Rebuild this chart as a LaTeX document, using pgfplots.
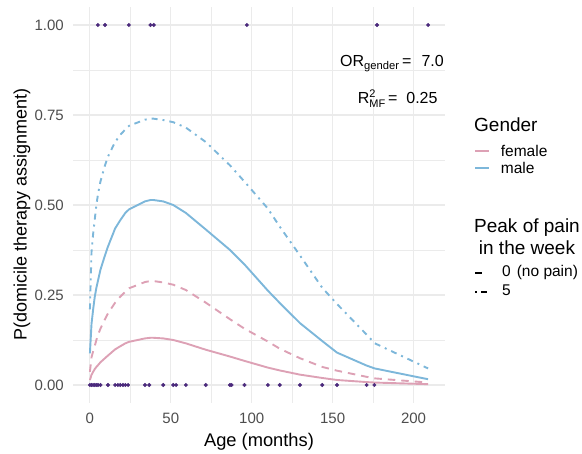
\documentclass[border=0pt]{standalone}
\usepackage{fontspec}
\setmainfont{Liberation Sans}
\usepackage{pgfplots}
\pgfplotsset{compat=1.18}

\definecolor{malecol}{HTML}{7DB7DA}
\definecolor{femcol}{HTML}{DDA1B5}
\definecolor{ptcol}{HTML}{4B2A7C}
\definecolor{gridcol}{HTML}{EBEBEB}
\definecolor{tickcol}{HTML}{4D4D4D}

\begin{document}
\begin{tikzpicture}
\useasboundingbox (-73bp,-51bp) rectangle (509bp,403bp);
\begin{axis}[
  at={(0,0)}, anchor=south west,
  scale only axis, width=372bp, height=396bp,
  xmin=-10.45, xmax=219.45, ymin=-0.05, ymax=1.05,
  axis line style={draw=none},
  major tick length=0pt, minor tick length=0pt,
  xtick={0,50,100,150,200}, minor xtick={25,75,125,175},
  ytick={0,0.25,0.5,0.75,1}, minor ytick={0.125,0.375,0.625,0.875},
  grid=both,
  major grid style={gridcol, line width=1.1bp},
  minor grid style={gridcol, line width=0.55bp},
  /pgf/number format/assume math mode=true,
  tick label style={font=\fontsize{15bp}{18bp}\selectfont, text=tickcol, inner sep=0pt},
  xticklabel shift=10bp, yticklabel shift=9bp,
  yticklabel style={/pgf/number format/.cd, fixed, fixed zerofill, precision=2},
  xlabel={Age (months)},
  ylabel={P(domicile therapy assignment)},
  every axis x label/.style={at={(axis description cs:0.5,-0.1086)}, anchor=base,
    font=\fontsize{18.3bp}{21bp}\selectfont, inner sep=0pt},
  every axis y label/.style={at={(axis description cs:-0.1245,0.477)}, rotate=90, anchor=base,
    font=\fontsize{18bp}{21bp}\selectfont, inner sep=0pt},
]
% female, pain 0
\addplot[femcol, line width=1.9bp] coordinates {
  (0,0.0136) (1,0.0284) (2,0.0366) (3,0.0443) (4,0.0502) (5,0.0551) (6.5,0.063)
  (9.3,0.0744) (11.2,0.082) (15.6,0.099) (18.8,0.1077) (21.9,0.1157) (24.2,0.1199)
  (34,0.1294) (37.5,0.1312) (39,0.1312) (45.3,0.1294) (51.5,0.125) (59.3,0.1157)
  (71.6,0.098) (86.6,0.079) (95.5,0.067) (110,0.0483) (117.3,0.0405) (129.8,0.0288)
  (143.6,0.0195) (152.7,0.0139) (171,0.0081) (176,0.0068) (209,0.0023)
};
% female, pain 5
\addplot[femcol, line width=1.9bp, dash pattern=on 7.5bp off 6bp] coordinates {
  (0,0.0366) (1,0.0774) (2,0.0937) (3,0.1085) (4,0.125) (5,0.1387) (6.5,0.1565)
  (9.3,0.1826) (11.2,0.1991) (15.6,0.2288) (18.8,0.2456) (21.9,0.2591) (24.2,0.2687)
  (34,0.2859) (37.5,0.289) (39,0.289) (45.3,0.2848) (51.5,0.2786) (59.3,0.2638)
  (71.6,0.2288) (86.6,0.1826) (95.5,0.1565) (110,0.1207) (117.3,0.1009) (129.8,0.0744)
  (143.6,0.0502) (152.7,0.0398) (171,0.0227) (176,0.0184) (209,0.0068)
};
% male, pain 0
\addplot[malecol, line width=1.9bp] coordinates {
  (0,0.088) (1,0.17) (2,0.21) (3,0.245) (4,0.27) (5,0.29) (6.5,0.32)
  (9.3,0.36) (11.2,0.385) (15.6,0.435) (18.8,0.458) (21.9,0.478) (24.2,0.488)
  (34,0.51) (37.5,0.514) (39,0.514) (45.3,0.51) (51.5,0.50) (59.3,0.478)
  (71.6,0.432) (86.6,0.375) (95.5,0.335) (110,0.262) (117.3,0.228) (129.8,0.172)
  (143.6,0.122) (152.7,0.09) (171,0.054) (176,0.046) (209,0.016)
};
% male, pain 5
\addplot[malecol, line width=1.9bp, dash pattern=on 6bp off 5bp on 2bp off 5bp] coordinates {
  (0,0.21) (1,0.37) (2,0.42) (3,0.46) (4,0.50) (5,0.53) (6.5,0.565)
  (9.3,0.61) (11.2,0.635) (15.6,0.675) (18.8,0.695) (21.9,0.71) (24.2,0.72)
  (34,0.737) (37.5,0.74) (39,0.74) (45.3,0.736) (51.5,0.73) (59.3,0.715)
  (71.6,0.675) (86.6,0.61) (95.5,0.565) (110,0.49) (117.3,0.44) (129.8,0.36)
  (143.6,0.27) (152.7,0.225) (171,0.14) (176,0.116) (209,0.046)
};
% observed assignments
\addplot[only marks, mark=*, mark size=1.8bp, ptcol] coordinates {
  (0,0) (1,0) (2,0) (3,0) (4,0) (5,0) (6.5,0) (11.2,0) (15.6,0) (17.3,0)
  (18.8,0) (20.4,0) (21.9,0) (23.6,0) (34,0) (36.7,0) (45.3,0) (51.5,0) (53.3,0)
  (59.3,0) (71.6,0) (86.6,0) (87.6,0) (95.5,0) (110,0) (117.3,0) (129.8,0)
  (143.6,0) (152.7,0) (171,0) (175.8,0)
  (4.9,1) (9.3,1) (24.1,1) (37.4,1) (39.5,1) (97,1) (177.4,1) (209,1)
};
\end{axis}

% annotations
\node[anchor=base east, inner sep=0pt, font=\fontsize{16bp}{19bp}\selectfont] at (371bp,336.3bp)
  {OR\textsubscript{gender}\,=\hspace{10bp}7.0};
\node[anchor=base east, inner sep=0pt, font=\fontsize{16bp}{19bp}\selectfont] at (364.7bp,299bp)
  {R\raisebox{-3.5bp}{\fontsize{11bp}{9.5bp}\selectfont\begin{tabular}[b]{@{}l@{}}2\\MF\end{tabular}}\,=\hspace{9bp}0.25};

% legend: gender
\node[anchor=base west, inner sep=0pt, font=\fontsize{19bp}{22bp}\selectfont] at (401bp,271bp) {Gender};
\draw[femcol, line width=1.9bp] (402bp,252.3bp) -- (416bp,252.3bp);
\node[anchor=base west, inner sep=0pt, font=\fontsize{15.5bp}{18bp}\selectfont] at (427.7bp,246bp) {female};
\draw[malecol, line width=1.9bp] (402bp,235bp) -- (416bp,235bp);
\node[anchor=base west, inner sep=0pt, font=\fontsize{15.5bp}{18bp}\selectfont] at (427.7bp,229.7bp) {male};

% legend: pain
\node[anchor=base, inner sep=0pt, font=\fontsize{19bp}{22bp}\selectfont] at (454bp,170bp) {Peak of pain};
\node[anchor=base, inner sep=0pt, font=\fontsize{19bp}{22bp}\selectfont] at (454bp,148bp) {in the week};
\draw[black, line width=1.9bp] (402bp,130.3bp) -- (409bp,130.3bp);
\node[anchor=base west, inner sep=0pt, font=\fontsize{15.5bp}{18bp}\selectfont] at (429bp,126bp) {0\hspace{6bp}(no pain)};
\draw[black, line width=1.9bp, dash pattern=on 2bp off 4bp on 6bp off 4bp] (402bp,111.3bp) -- (416bp,111.3bp);
\node[anchor=base west, inner sep=0pt, font=\fontsize{15.5bp}{18bp}\selectfont] at (429bp,107bp) {5};
\end{tikzpicture}
\end{document}
